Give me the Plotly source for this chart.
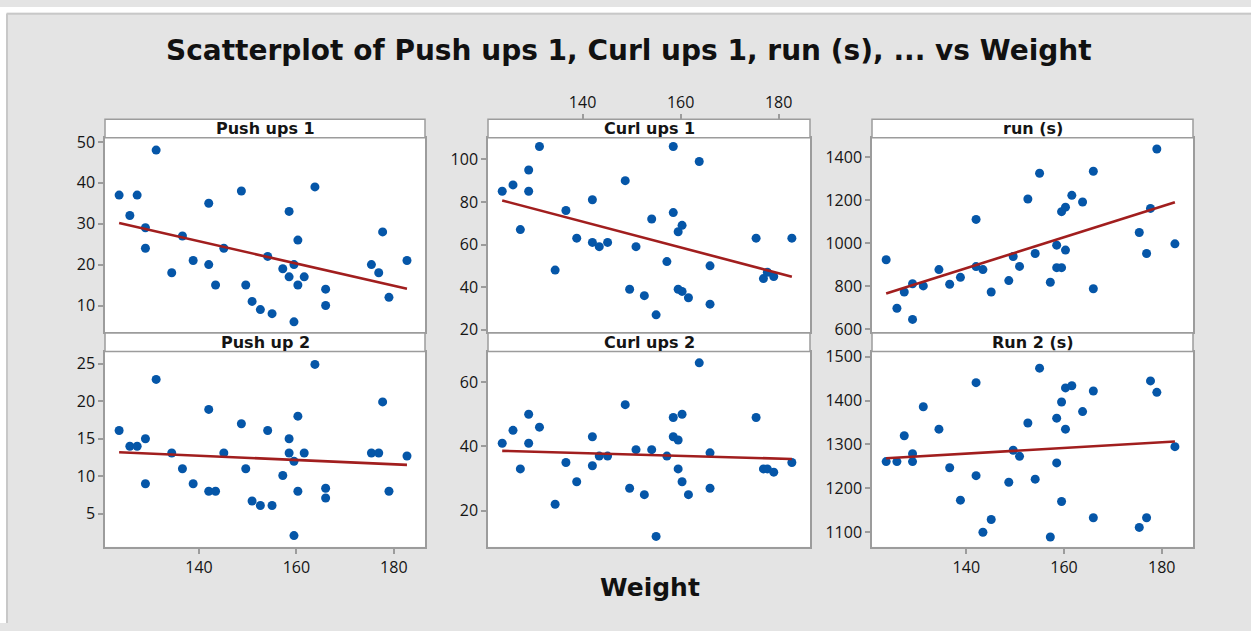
import numpy as np
import plotly.graph_objects as go

# ---------------- data ----------------
weight = [123.6, 125.8, 127.3, 129.0, 129.0, 131.2, 134.4, 136.6, 138.8, 142.0,
          142.0, 143.4, 145.1, 148.7, 149.6, 150.9, 152.6, 154.1, 155.0, 157.2,
          158.5, 158.5, 159.5, 159.5, 160.3, 160.3, 161.6, 163.8, 166.0, 166.0,
          175.4, 176.9, 177.7, 179.0, 182.7]

push_ups_1 = [37, 32, 37, 29, 24, 48, 18, 27, 21, 35,
              20, 15, 24, 38, 15, 11, 9, 22, 8, 19,
              33, 17, 20, 6, 26, 15, 17, 39, 14, 10,
              20, 18, 28, 12, 21]

curl_ups_1 = [85, 88, 67, 95, 85, 106, 48, 76, 63, 81,
              61, 59, 61, 90, 39, 59, 36, 72, 27, 52,
              106, 75, 66, 39, 69, 38, 35, 99, 50, 32,
              63, 44, 47, 45, 63]

run_1 = [923, 697, 773, 811, 645, 801, 877, 809, 841, 1111,
         891, 877, 773, 826, 938, 892, 1206, 952, 1326, 818,
         991, 886, 1147, 886, 1168, 968, 1223, 1192, 1335, 788,
         1050, 952, 1162, 1439, 997]

push_up_2 = [16.1, 14, 14, 15, 9, 22.9, 13.1, 11, 9, 18.9,
             8, 8, 13.1, 17, 11, 6.7, 6.1, 16.1, 6.1, 10.1,
             15, 13.1, 12, 2.1, 18, 8, 13.1, 24.9, 8.4, 7.1,
             13.1, 13.1, 19.9, 8, 12.7]

curl_ups_2 = [41, 45, 33, 50, 41, 46, 22, 35, 29, 43,
              34, 37, 37, 53, 27, 39, 25, 39, 12, 37,
              49, 43, 42, 33, 50, 29, 25, 66, 38, 27,
              49, 33, 33, 32, 35]

run_2 = [1261, 1261, 1320, 1279, 1261, 1386, 1335, 1247, 1173, 1441,
         1229, 1100, 1129, 1214, 1287, 1273, 1349, 1221, 1474, 1089,
         1360, 1258, 1397, 1170, 1429, 1335, 1434, 1375, 1422, 1133,
         1111, 1133, 1445, 1419, 1295]

panel_titles = ["Push ups 1", "Curl ups 1", "run (s)", "Push up 2", "Curl ups 2", "Run 2 (s)"]
series = [push_ups_1, curl_ups_1, run_1, push_up_2, curl_ups_2, run_2]
x_ticks = [140, 160, 180]
y_ticks = [[10, 20, 30, 40, 50], [20, 40, 60, 80, 100], [600, 800, 1000, 1200, 1400],
           [5, 10, 15, 20, 25], [20, 40, 60], [1100, 1200, 1300, 1400, 1500]]

chart_title = "Scatterplot of Push ups 1, Curl ups 1, run (s), ... vs Weight"
x_title = "Weight"

# ---------------- layout geometry ----------------
W, H = 1251, 631
col_px = [(105, 425), (488, 810), (872, 1193)]
row_px = [(134, 333), (353, 553)]
strip_px = [(115, 134), (334, 353)]
y_ranges = [[3.5, 51.0], [18.9, 110.1], [586, 1491], [0.6, 26.6], [8.75, 69.5], [1066.6, 1511.8]]
x_range = [120.7, 186.4]

def fx(p):
    return p / W

def fy(p):
    return 1 - p / H

FONT = "Open Sans"
HFONT = "DejaVu Sans"
FRAME = "#9c9c9c"
DOT = "#0556a8"
LINE = "#a11e1e"
TXT = "#151515"

fig = go.Figure()
layout = dict(
    width=W, height=H,
    margin=dict(l=0, r=0, t=0, b=0),
    paper_bgcolor="#e4e4e4",
    plot_bgcolor="white",
    showlegend=False,
    font=dict(family=FONT, color=TXT),
    shapes=[], annotations=[],
)

wx = np.array(weight, dtype=float)
for k in range(6):
    r, c = divmod(k, 3)
    sfx = "" if k == 0 else str(k + 1)
    yv = np.array(series[k], dtype=float)
    fig.add_trace(go.Scatter(x=weight, y=series[k], mode="markers",
                             marker=dict(color=DOT, size=9),
                             xaxis="x" + sfx, yaxis="y" + sfx, hoverinfo="x+y"))
    b, a = np.polyfit(wx, yv, 1)
    xs = np.array([wx.min(), wx.max()])
    fig.add_trace(go.Scatter(x=xs, y=a + b * xs, mode="lines",
                             line=dict(color=LINE, width=2.6),
                             xaxis="x" + sfx, yaxis="y" + sfx, hoverinfo="skip"))

    show_x = (r == 1 and c in (0, 2))
    layout["xaxis" + sfx] = dict(
        domain=[fx(col_px[c][0]), fx(col_px[c][1])], range=x_range,
        anchor="y" + sfx, showline=True, linecolor=FRAME, linewidth=1.5, mirror=True,
        showgrid=False, zeroline=False,
        tickvals=x_ticks if show_x else [], showticklabels=show_x,
        ticks="outside" if show_x else "", ticklen=5, tickwidth=1.5, tickcolor=FRAME,
        tickfont=dict(size=16, color=TXT), fixedrange=True,
    )
    layout["yaxis" + sfx] = dict(
        domain=[fy(row_px[r][1]), fy(row_px[r][0])], range=y_ranges[k],
        anchor="x" + sfx, showline=True, linecolor=FRAME, linewidth=1.5, mirror=True,
        showgrid=False, zeroline=False, tickvals=y_ticks[k],
        ticks="outside", ticklen=5, tickwidth=1.5, tickcolor=FRAME,
        tickfont=dict(size=16, color=TXT), fixedrange=True,
    )
    # strip
    layout["shapes"].append(dict(type="rect", xref="paper", yref="paper",
                                 x0=fx(col_px[c][0]), x1=fx(col_px[c][1]),
                                 y0=fy(strip_px[r][1]), y1=fy(strip_px[r][0]),
                                 fillcolor="white", line=dict(color=FRAME, width=1.5)))
    layout["annotations"].append(dict(text=panel_titles[k], xref="paper", yref="paper",
                                      x=fx((col_px[c][0] + col_px[c][1]) / 2),
                                      y=fy((strip_px[r][0] + strip_px[r][1]) / 2),
                                      xanchor="center", yanchor="middle", showarrow=False,
                                      font=dict(family=HFONT, size=16, color=TXT, weight="bold")))

# top axis above the middle column strip
fig.add_trace(go.Scatter(x=weight, y=curl_ups_1, mode="markers", marker=dict(opacity=0),
                         xaxis="x7", yaxis="y2", hoverinfo="skip"))
layout["xaxis7"] = dict(
    domain=[fx(col_px[1][0]), fx(col_px[1][1])], range=x_range,
    anchor="free", position=fy(strip_px[0][0]), side="top", overlaying="x2",
    showline=False, showgrid=False, zeroline=False, tickvals=x_ticks,
    ticks="outside", ticklen=5, tickwidth=1.5, tickcolor=FRAME,
    tickfont=dict(size=16, color=TXT), fixedrange=True,
)

# outer white edge and border
layout["shapes"] += [
    dict(type="rect", xref="paper", yref="paper", x0=0, x1=fx(6), y0=0, y1=1,
         fillcolor="white", line=dict(width=0)),
    dict(type="rect", xref="paper", yref="paper", x0=0, x1=1, y0=fy(6), y1=1,
         fillcolor="white", line=dict(width=0)),
    dict(type="line", xref="paper", yref="paper", x0=fx(7), x1=fx(7), y0=0, y1=fy(7),
         line=dict(color="#c8c8c8", width=2)),
    dict(type="line", xref="paper", yref="paper", x0=fx(7), x1=1, y0=fy(7), y1=fy(7),
         line=dict(color="#c8c8c8", width=2)),
]

layout["annotations"] += [
    dict(text=chart_title, xref="paper", yref="paper", x=fx(629), y=fy(45),
         xanchor="center", yanchor="middle", showarrow=False,
         font=dict(family=HFONT, size=28, color="#111111", weight="bold")),
    dict(text=x_title, xref="paper", yref="paper", x=fx(650), y=fy(595),
         xanchor="center", yanchor="middle", showarrow=False,
         font=dict(family=HFONT, size=25, color="#111111", weight="bold")),
]

fig.update_layout(**layout)
fig.write_html("out.html", config={"displayModeBar": False},
               post_script="document.body.style.margin='0px';"
                           "document.body.style.overflow='hidden';"
                           "document.documentElement.style.overflow='hidden';")
